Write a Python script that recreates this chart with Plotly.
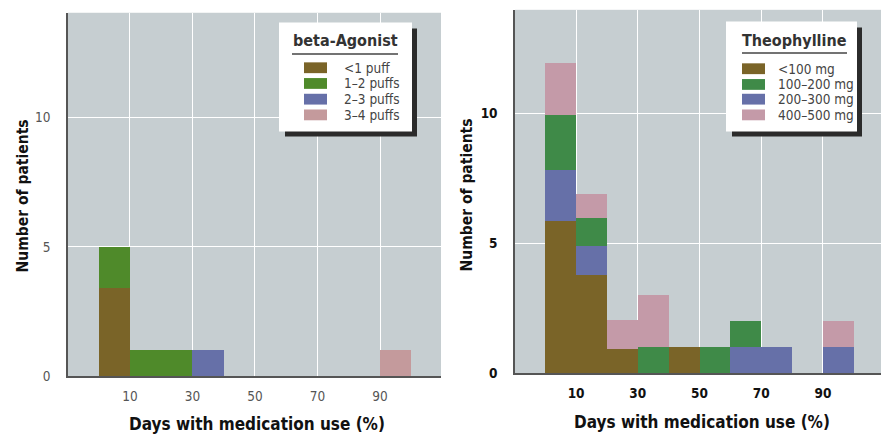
import plotly.graph_objects as go

# ---------------- data ----------------
bin_centers = [5, 15, 25, 35, 45, 55, 65, 75, 85, 95]
bin_width = 10

beta_names = ["<1 puff", "1–2 puffs", "2–3 puffs", "3–4 puffs"]
beta_lt1 = [3.4, 0, 0, 0, 0, 0, 0, 0, 0, 0]
beta_1_2 = [1.6, 1, 1, 0, 0, 0, 0, 0, 0, 0]
beta_2_3 = [0, 0, 0, 1, 0, 0, 0, 0, 0, 0]
beta_3_4 = [0, 0, 0, 0, 0, 0, 0, 0, 0, 1]

theo_names = ["<100 mg", "100–200 mg", "200–300 mg", "400–500 mg"]
theo_lt100 = [5.85, 3.8, 0.95, 0, 1, 0, 0, 0, 0, 0]
theo_100_200 = [2.1, 1.1, 0, 1, 0, 1, 1, 0, 0, 0]
theo_200_300 = [2.0, 1.1, 0, 0, 0, 0, 1, 1, 0, 1]
theo_400_500 = [2.0, 0.9, 1.1, 2, 0, 0, 0, 0, 0, 1]

x_ticks = [10, 30, 50, 70, 90]
y_ticks = [0, 5, 10]
x_title = "Days with medication use (%)"
y_title = "Number of patients"
beta_title = "beta-Agonist"
theo_title = "Theophylline"

# ---------------- styles ----------------
W, H = 881, 442
FONT = "Liberation Sans Narrow, DejaVu Sans Condensed, Arial Narrow, sans-serif"
BG = "#c6ced1"
beta_colors = ["#7a6428", "#4f8a2a", "#6670a8", "#c49a9c"]
theo_colors = ["#7a6428", "#3f8a48", "#6670a8", "#c49aa8"]

fig = go.Figure()

beta_series = [beta_lt1, beta_1_2, beta_2_3, beta_3_4]
for name, vals, col in zip(beta_names, beta_series, beta_colors):
    fig.add_trace(go.Bar(x=bin_centers, y=vals, width=bin_width, name=name,
                         marker=dict(color=col, line=dict(width=0)),
                         xaxis="x", yaxis="y", showlegend=False))

theo_series = [theo_lt100, theo_100_200, theo_200_300, theo_400_500]
theo_order = [0, 2, 1, 3]  # stacked: <100, 200-300, 100-200, 400-500
for i in theo_order:
    fig.add_trace(go.Bar(x=bin_centers, y=theo_series[i], width=bin_width,
                         name=theo_names[i],
                         marker=dict(color=theo_colors[i], line=dict(width=0)),
                         xaxis="x2", yaxis="y2", showlegend=False))


def px(x):
    return x / W


def py(y):
    return 1 - y / H


axis_common = dict(showgrid=True, gridcolor="white", gridwidth=1, zeroline=False,
                   showline=True, linecolor="#555555", linewidth=1.5,
                   ticks="", fixedrange=True)

fig.update_layout(
    width=W, height=H, margin=dict(l=0, r=0, t=0, b=0),
    paper_bgcolor="white", plot_bgcolor=BG, barmode="stack", bargap=0,
    font=dict(family=FONT),
    xaxis=dict(domain=[px(68), px(441)], range=[-9.8, 109.5], anchor="y",
               tickvals=x_ticks, ticklabelstandoff=7,
               tickfont=dict(size=13.5, color="#555555", family=FONT), **axis_common),
    yaxis=dict(domain=[py(383), py(13)], range=[0, 14.05], anchor="x",
               tickvals=y_ticks, ticklabelstandoff=13,
               tickfont=dict(size=13.5, color="#555555", family=FONT), **axis_common),
    xaxis2=dict(domain=[px(515), 1.0], range=[-9.8, 108.8], anchor="y2",
                tickvals=x_ticks, ticklabelstandoff=7,
                tickfont=dict(size=13.5, color="#111111", family=FONT, weight="bold"),
                **axis_common),
    yaxis2=dict(domain=[py(380), py(10)], range=[0, 14.0], anchor="x2",
                tickvals=y_ticks, ticklabelstandoff=13,
                tickfont=dict(size=13.5, color="#111111", family=FONT, weight="bold"),
                **axis_common),
)

shapes = []
annotations = []

# axis titles
for cx, cy in [(257, 432), (702, 430)]:
    annotations.append(dict(text=x_title, x=px(cx), y=py(cy), xref="paper", yref="paper",
                            showarrow=False, xanchor="center", yanchor="middle",
                            font=dict(size=17, color="#111111", family=FONT, weight="bold")))
for cx, cy in [(23, 200), (467, 198)]:
    annotations.append(dict(text=y_title, x=px(cx), y=py(cy), xref="paper", yref="paper",
                            showarrow=False, xanchor="center", yanchor="middle", textangle=-90,
                            font=dict(size=15.5, color="#111111", family=FONT, weight="bold")))


def add_legend(box, title, title_c, line_y, line_x, sw_x, row_ys, label_x, names, colors):
    x0, y0, x1, y1 = box
    shapes.append(dict(type="rect", xref="paper", yref="paper", layer="above",
                       x0=px(x0 + 6), x1=px(x1 + 5), y0=py(y1 + 5), y1=py(y0 + 6),
                       fillcolor="#2b2b2b", line=dict(width=0)))
    shapes.append(dict(type="rect", xref="paper", yref="paper", layer="above",
                       x0=px(x0), x1=px(x1), y0=py(y1), y1=py(y0),
                       fillcolor="white", line=dict(width=0)))
    annotations.append(dict(text=title, x=px(title_c[0]), y=py(title_c[1]), xref="paper",
                            yref="paper", showarrow=False, xanchor="center", yanchor="middle",
                            font=dict(size=16, color="#333333", family=FONT, weight="bold")))
    shapes.append(dict(type="line", xref="paper", yref="paper", layer="above",
                       x0=px(line_x[0]), x1=px(line_x[1]), y0=py(line_y), y1=py(line_y),
                       line=dict(color="#444444", width=1.5)))
    for name, col, ry in zip(names, colors, row_ys):
        shapes.append(dict(type="rect", xref="paper", yref="paper", layer="above",
                           x0=px(sw_x[0]), x1=px(sw_x[1]), y0=py(ry + 5.5), y1=py(ry - 5.5),
                           fillcolor=col, line=dict(width=0)))
        annotations.append(dict(text=name, x=px(label_x), y=py(ry), xref="paper", yref="paper",
                                showarrow=False, xanchor="left", yanchor="middle",
                                font=dict(size=13.5, color="#444444", family=FONT)))


add_legend((279, 23, 412, 134), beta_title, (345, 41), 55, (292, 398), (304, 327),
           [69, 85, 101, 117], 342, beta_names, beta_colors)
add_legend((726, 22, 857, 134), theo_title, (794, 41), 54, (742, 847), (742, 765),
           [70, 86, 101, 117], 776, theo_names, theo_colors)

fig.update_layout(shapes=shapes, annotations=annotations)

post = ("document.documentElement.style.margin='0';"
        "document.documentElement.style.overflow='hidden';"
        "document.body.style.margin='0';"
        "document.body.style.overflow='hidden';")
fig.write_html("out.html", config={"displayModeBar": False}, post_script=post)
